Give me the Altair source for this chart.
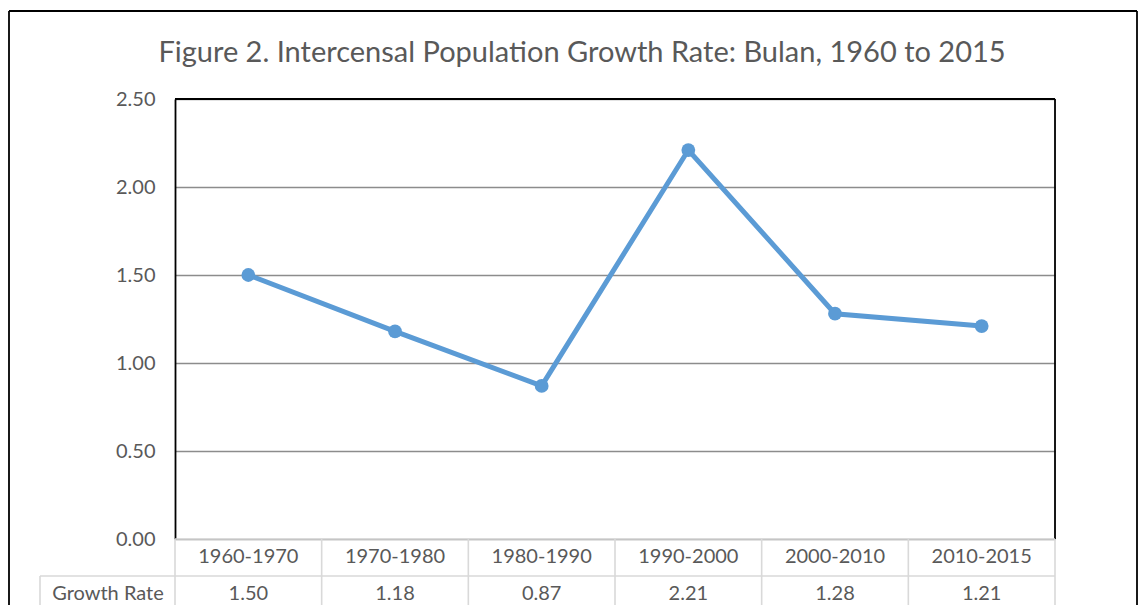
import altair as alt
import pandas as pd

periods = ["1960-1970", "1970-1980", "1980-1990", "1990-2000", "2000-2010", "2010-2015"]
growth = [1.50, 1.18, 0.87, 2.21, 1.28, 1.21]
row_label = "Growth Rate"
title_text = "Figure 2. Intercensal Population Growth Rate: Bulan, 1960 to 2015"

df = pd.DataFrame({"period": periods, "rate": growth})
df["label"] = [f"{v:.2f}" for v in growth]
one = pd.DataFrame({"t": [title_text], "r": [row_label]})

FONT = "Lato"
TXT = "#595959"
LINE = "#5B9BD5"
TBL = "#d9d9d9"
W, H = 880, 440
PL, PT, PR, PB = 167, 91, 83, 66

xs = alt.Scale(type="band", domain=periods, paddingInner=0, paddingOuter=0)
ys = alt.Scale(domain=[0, 2.5])
X = alt.X("period:N", scale=xs, axis=None)

base = alt.Chart(df)
single = alt.Chart(one)

line = base.mark_line(color=LINE, strokeWidth=5).encode(
    x=X,
    y=alt.Y("rate:Q", scale=ys, axis=alt.Axis(
        values=[0, 0.5, 1, 1.5, 2, 2.5], format=".2f", title=None,
        ticks=False, labelPadding=20, labelFont=FONT, labelFontSize=20,
        labelColor=TXT, domainColor="#000000", domainWidth=1.8,
        grid=True, gridColor="#8c8c8c", gridWidth=1.6)),
)
points = base.mark_point(filled=True, color=LINE, size=190, opacity=1).encode(
    x=X, y=alt.Y("rate:Q", scale=ys),
)

def rule(color="#000000", width=1.8, **enc):
    return single.mark_rule(color=color, strokeWidth=width).encode(**enc)

# table grid
vlines = base.mark_rule(color=TBL, strokeWidth=1.6).encode(
    x=alt.X("period:N", scale=xs, axis=None, bandPosition=0),
    y=alt.value(H), y2=alt.value(H + 90),
)
vright = rule(TBL, 1.6, x=alt.value(W), y=alt.value(H), y2=alt.value(H + 90))
hline1 = rule(TBL, 1.6, x=alt.value(0), x2=alt.value(W), y=alt.value(H))
hline2 = rule(TBL, 1.6, x=alt.value(-135), x2=alt.value(W), y=alt.value(H + 37))
vleft = rule(TBL, 1.6, x=alt.value(-135), y=alt.value(H + 37), y2=alt.value(H + 90))

cat_text = base.mark_text(font=FONT, fontSize=20, color=TXT, baseline="middle").encode(
    x=X, y=alt.value(H + 18), text="period:N")
val_text = base.mark_text(font=FONT, fontSize=20, color=TXT, baseline="middle").encode(
    x=X, y=alt.value(H + 55), text="label:N")
row_text = single.mark_text(font=FONT, fontSize=20, color=TXT, baseline="middle").encode(
    x=alt.value(-67), y=alt.value(H + 55), text="r:N")

top_rule = rule(x=alt.value(0), x2=alt.value(W), y=alt.value(0))
right_rule = rule(x=alt.value(W), y=alt.value(0), y2=alt.value(H))

title = single.mark_text(font=FONT, fontSize=29, color=TXT, baseline="middle").encode(
    x=alt.value(407), y=alt.value(-46), text="t:N")

# outer frame
FR = W + PR - 1
b_top = rule(x=alt.value(-166), x2=alt.value(FR), y=alt.value(-88))
b_left = rule(x=alt.value(-166), y=alt.value(-88), y2=alt.value(H + 120))
b_right = rule(x=alt.value(FR), y=alt.value(-88), y2=alt.value(H + 120))

chart = alt.layer(
    b_top, b_left, b_right, title, top_rule, right_rule, hline1, hline2,
    vlines, vright, vleft, line, points, cat_text, val_text, row_text,
).properties(
    width=W, height=H,
    autosize=alt.AutoSizeParams(type="none"),
    padding={"left": PL, "top": PT, "right": PR, "bottom": PB},
).configure_view(stroke=None).configure(background="white")

chart.save("out.html", embed_options={"renderer": "svg", "actions": False})
